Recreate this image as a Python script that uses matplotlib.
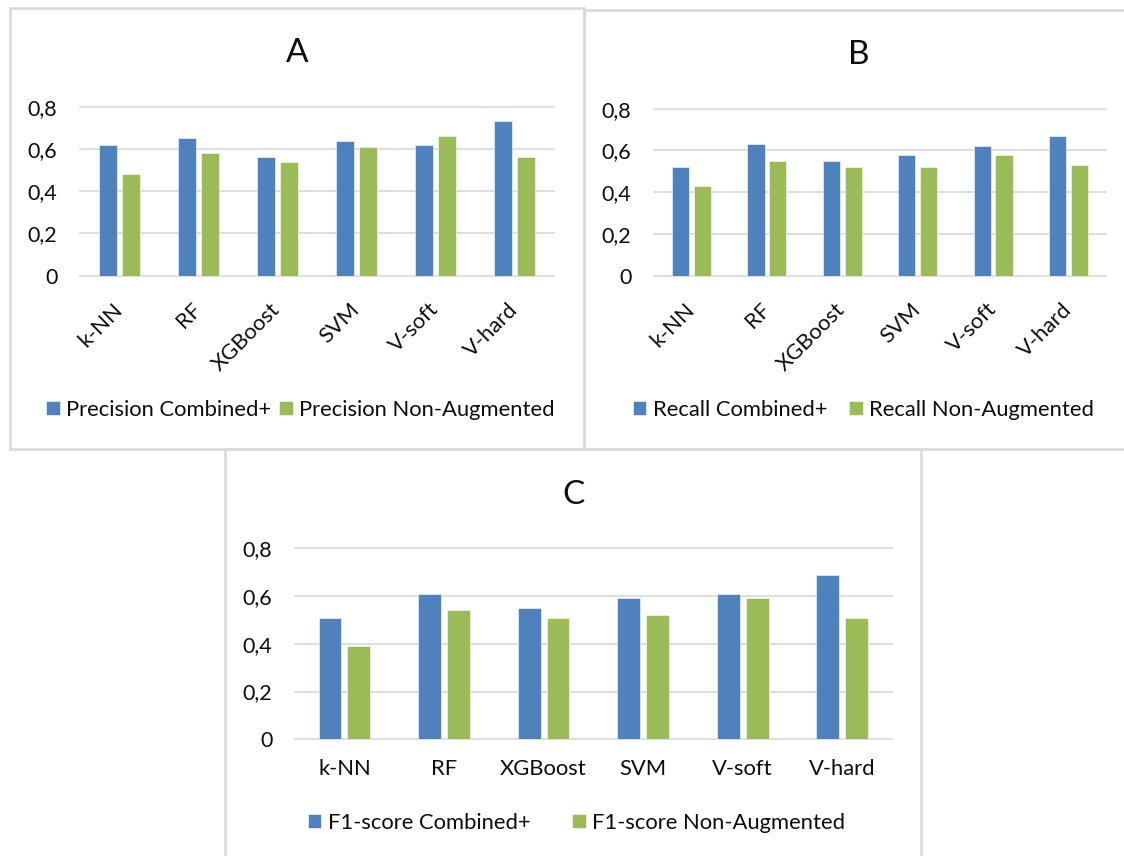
import numpy as np
import matplotlib
matplotlib.use('Agg')
import matplotlib.pyplot as plt
from matplotlib.patches import Rectangle

# model names and scores for each metric
categories = ['k-NN', 'RF', 'XGBoost', 'SVM', 'V-soft', 'V-hard']

precision_combined = [0.62, 0.65, 0.56, 0.64, 0.62, 0.73]
precision_non_aug = [0.48, 0.58, 0.54, 0.61, 0.66, 0.56]

recall_combined = [0.52, 0.63, 0.55, 0.58, 0.62, 0.67]
recall_non_aug = [0.43, 0.55, 0.52, 0.52, 0.58, 0.53]

f1_combined = [0.51, 0.61, 0.55, 0.59, 0.61, 0.69]
f1_non_aug = [0.39, 0.54, 0.51, 0.52, 0.59, 0.51]

ytick_values = [0, 0.2, 0.4, 0.6, 0.8]
ytick_labels = ['0', '0,2', '0,4', '0,6', '0,8']

# colours and sizes
BLUE = '#4f81bd'
GREEN = '#9bbb59'
GRID = '#d9d9d9'
TEXT = '#0d0d0d'
FONT_SIZE = 15.8
TICK_SIZE = 15.5
TITLE_SIZE = 24

plt.rcParams['font.family'] = ['Lato', 'DejaVu Sans']

W, H = 1124, 856
fig = plt.figure(figsize=(W / 100, H / 100), dpi=100)


def px_box(left, top, right, bottom):
    # pixel corners -> figure fraction [x, y, w, h]
    return [left / W, 1 - bottom / H, (right - left) / W, (bottom - top) / H]


def frame(left, top, right, bottom):
    fig.add_artist(Rectangle((left / W, 1 - bottom / H), (right - left) / W, (bottom - top) / H,
                             transform=fig.transFigure, fill=False, ec=GRID, lw=1.8))


def panel(box, title, title_xy, combined, non_aug, names, rotate, legend_xy, col_space):
    ax = fig.add_axes(px_box(*box))
    x = np.arange(len(categories))
    width = 0.23
    offset = 0.145

    for v in ytick_values:
        ax.axhline(v, color=GRID, lw=1.2, zorder=1, clip_on=False)

    b1 = ax.bar(x - offset, combined, width, color=BLUE, edgecolor='white', lw=0.4,
                zorder=2, label=names[0])
    b2 = ax.bar(x + offset, non_aug, width, color=GREEN, edgecolor='white', lw=0.4,
                zorder=2, label=names[1])

    ax.set_xlim(-0.5, len(categories) - 0.5)
    ax.set_ylim(0, 0.8)
    ax.set_yticks(ytick_values)
    ax.set_yticklabels(ytick_labels, fontsize=TICK_SIZE, color=TEXT)
    ax.set_xticks(x)
    if rotate:
        ax.set_xticklabels(categories, fontsize=FONT_SIZE, color=TEXT, rotation=45,
                           ha='right', va='center', rotation_mode='anchor')
        ax.tick_params(axis='x', pad=22)
    else:
        ax.set_xticklabels(categories, fontsize=FONT_SIZE, color=TEXT)
        ax.tick_params(axis='x', pad=14)
    ax.tick_params(axis='y', pad=16)
    ax.tick_params(length=0)
    for s in ax.spines.values():
        s.set_visible(False)

    fig.text(title_xy[0] / W, 1 - title_xy[1] / H, title, fontsize=TITLE_SIZE,
             color=TEXT, ha='center', va='center')

    ax.legend(handles=[b1, b2], ncol=2, loc='center',
              bbox_to_anchor=(legend_xy[0] / W, 1 - legend_xy[1] / H),
              bbox_transform=fig.transFigure, frameon=False, fontsize=FONT_SIZE,
              handlelength=0.62, handleheight=0.62, handletextpad=0.3,
              columnspacing=col_space, borderpad=0, borderaxespad=0, labelcolor=TEXT)
    return ax


# panel borders
frame(9.5, 8, 583.5, 449)
frame(583.5, 10, 1135, 449)
frame(224.5, 449, 921, 862)

panel((79.6, 106.7, 554.2, 275.7), 'A', (297, 53), precision_combined, precision_non_aug,
      ['Precision Combined+', 'Precision Non-Augmented'], True, (300.5, 410), 0.35)
panel((653.6, 108.7, 1106.4, 275.7), 'B', (859, 55), recall_combined, recall_non_aug,
      ['Recall Combined+', 'Recall Non-Augmented'], True, (863.5, 410), 1.0)
panel((294.7, 548.3, 892, 739.3), 'C', (573, 495), f1_combined, f1_non_aug,
      ['F1-score Combined+', 'F1-score Non-Augmented'], False, (576.5, 823), 1.9)

fig.savefig('out.png', dpi=100, facecolor='white')
